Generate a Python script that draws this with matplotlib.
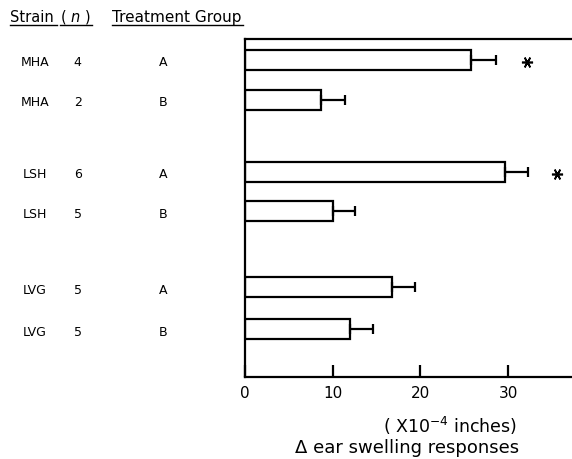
import matplotlib.pyplot as plt
import matplotlib.transforms as mtransforms
from matplotlib.lines import Line2D

# data
strains = ['MHA', 'MHA', 'LSH', 'LSH', 'LVG', 'LVG']
n_values = ['4', '2', '6', '5', '5', '5']
groups = ['A', 'B', 'A', 'B', 'A', 'B']
means = [25.8, 8.7, 29.7, 10.0, 16.8, 12.0]
errors = [2.8, 2.7, 2.6, 2.6, 2.6, 2.6]
star_x = [32.2, None, 35.6, None, None, None]
row_pos = [0, 1, 2.8, 3.8, 5.7, 6.75]
x_ticks = [0, 10, 20, 30]

plt.rcParams['font.family'] = ['DejaVu Sans']

fig = plt.figure(figsize=(5.72, 4.6), dpi=100)
ax = fig.add_axes([0.4283, 0.178, 0.5717, 0.735])

ax.barh(row_pos, means, height=0.5, color='white', edgecolor='black', linewidth=1.6)
ax.errorbar(means, row_pos, xerr=[[0] * len(means), errors], fmt='none',
            ecolor='black', elinewidth=1.6, capsize=3.5, capthick=1.6)

# significance marks
for y, sx in zip(row_pos, star_x):
    if sx is not None:
        ax.plot(sx, y + 0.05, marker=(6, 2, 90), markersize=8, color='black',
                markeredgewidth=1.2)

ax.set_xlim(0, 37.3)
ax.set_ylim(7.95, -0.52)
ax.spines['right'].set_visible(False)
for s in ['left', 'top', 'bottom']:
    ax.spines[s].set_linewidth(1.6)
ax.set_xticks(x_ticks)
ax.set_xticklabels([str(t) for t in x_ticks], fontsize=11)
ax.tick_params(axis='x', direction='in', length=9, width=1.6, pad=6)
ax.set_yticks([])

# x-axis caption
fig.text(0.787, 0.075, '( X10$^{-4}$ inches)', fontsize=12.5, ha='center', va='center')
fig.text(0.711, 0.026, '\u0394 ear swelling responses', fontsize=13, ha='center', va='center')

# left-hand table
trans = mtransforms.blended_transform_factory(fig.transFigure, ax.transData)
for y, s, n, g in zip(row_pos, strains, n_values, groups):
    ax.text(0.061, y + 0.05, s, transform=trans, fontsize=9, ha='center', va='center')
    ax.text(0.136, y + 0.05, n, transform=trans, fontsize=9, ha='center', va='center')
    ax.text(0.285, y + 0.05, g, transform=trans, fontsize=9, ha='center', va='center')

fig.text(0.017, 0.962, 'Strain', fontsize=10.5, ha='left', va='center')
fig.text(0.105, 0.962, '( $\\it{n}$ )', fontsize=10.5, ha='left', va='center')
fig.text(0.196, 0.962, 'Treatment Group', fontsize=11, ha='left', va='center')
fig.add_artist(Line2D([0.017, 0.100], [0.944, 0.944], color='black', linewidth=1.0))
fig.add_artist(Line2D([0.105, 0.161], [0.944, 0.944], color='black', linewidth=1.0))
fig.add_artist(Line2D([0.196, 0.425], [0.944, 0.944], color='black', linewidth=1.0))

fig.savefig('out.png', dpi=100)
